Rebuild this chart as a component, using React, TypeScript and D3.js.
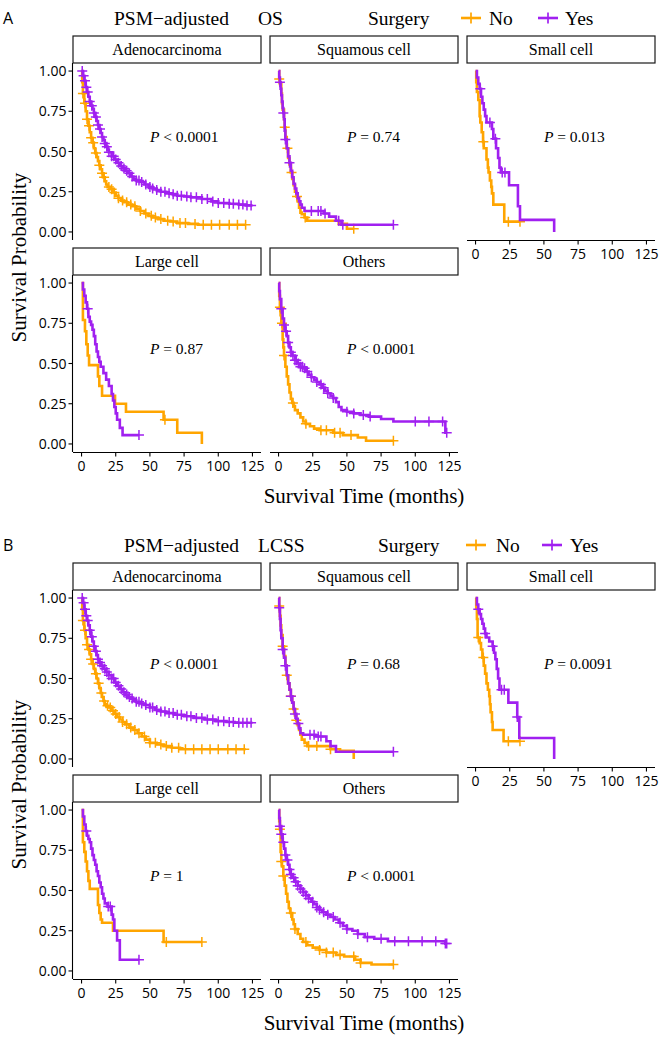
import React from 'react';
import * as d3 from 'd3';

type Pt = [number, number];

const ORANGE = '#FFA500';
const PURPLE = '#A020F0';
const SERIF = '"Liberation Serif", "Times New Roman", Times, serif';
const SANS = '"Open Sans", "Liberation Sans", Arial, sans-serif';

const facetNames = ['Adenocarcinoma', 'Squamous cell', 'Small cell', 'Large cell', 'Others'];
const xTicks = [0, 25, 50, 75, 100, 125];
const yTicks = [0, 0.25, 0.5, 0.75, 1];
const groupLabels = ['No', 'Yes'];
const osPValues = ['< 0.0001', '= 0.74', '= 0.013', '= 0.87', '< 0.0001'];
const lcssPValues = ['< 0.0001', '= 0.68', '= 0.0091', '= 1', '< 0.0001'];

// ---------- A: OS ----------
const osAdenoNo: Pt[] = [[0,1],[0.5,0.93],[1,0.86],[2,0.8],[3,0.75],[4,0.7],[5,0.66],[6,0.62],[7,0.585],[8,0.555],[9,0.52],[10,0.49],[11,0.465],[12,0.44],[13,0.415],[14,0.39],[15,0.365],[16,0.34],[17,0.315],[18,0.295],[19,0.28],[21,0.265],[23,0.245],[25,0.225],[27,0.21],[29,0.195],[31,0.185],[34,0.17],[37,0.16],[40,0.145],[43,0.13],[46,0.115],[49,0.1],[52,0.09],[56,0.08],[60,0.07],[65,0.065],[70,0.055],[78,0.05],[85,0.045],[120,0.045]];
const osAdenoNoCens = [1,2.5,4,5.5,7,8.5,10.5,13,15,16.5,20,22,24,27,30,33,36,39,43,47,51,54,58,63,67,72,76,83,89,95,101,108,114,120];
const osAdenoYes: Pt[] = [[0,1],[1,0.97],[2,0.94],[3,0.9],[4,0.87],[5,0.84],[6,0.81],[7,0.785],[8,0.765],[9,0.74],[10,0.715],[11,0.69],[12,0.665],[13,0.64],[14,0.615],[15,0.59],[16,0.57],[17,0.55],[18,0.53],[19,0.51],[20,0.495],[22,0.47],[24,0.45],[26,0.43],[28,0.41],[30,0.395],[32,0.38],[34,0.365],[36,0.345],[38,0.33],[40,0.32],[43,0.31],[46,0.295],[49,0.28],[52,0.27],[55,0.26],[58,0.25],[62,0.24],[66,0.235],[70,0.225],[75,0.22],[80,0.215],[88,0.205],[95,0.19],[100,0.18],[108,0.175],[115,0.17],[120,0.165],[125,0.165]];
const osAdenoYesCens = [0.5,1.5,2.5,3.5,4.5,6,7.5,9,10.5,12,13.5,15,17,18.5,20,22,23.5,25,27,29,31,33,35,37,40,42,44,47,50,52,55,58,61,64,67,70,73,77,80,84,88,92,96,100,104,108,111,115,118,121,124];

const osSquaNo: Pt[] = [[0,1],[0.5,0.95],[1,0.92],[2,0.86],[2.5,0.8],[3,0.76],[4,0.7],[4.5,0.65],[5,0.59],[6,0.52],[7,0.46],[8,0.42],[9,0.37],[10,0.33],[11,0.29],[12,0.25],[13,0.22],[14,0.19],[15,0.15],[16,0.12],[17,0.11],[19,0.09],[21,0.07],[44,0.05],[50,0.02],[55,0.02]];
const osSquaNoCens = [0.5,4.5,6.5,9.5,13.5,19.5,55];
const osSquaYes: Pt[] = [[0,1],[0.5,0.96],[1,0.93],[1.5,0.89],[2,0.85],[2.5,0.81],[3,0.77],[3.5,0.74],[4,0.7],[4.5,0.63],[5,0.575],[6,0.52],[7,0.47],[8,0.43],[9,0.38],[10,0.34],[11,0.3],[12,0.27],[13,0.24],[14,0.21],[15,0.19],[16,0.17],[17,0.15],[19,0.13],[33,0.115],[37,0.095],[42,0.07],[46,0.045],[84,0.045]];
const osSquaYesCens = [1,3.5,5,8,24,29,31,34,44,47,84];

const osSmallNo: Pt[] = [[0,1],[0.5,0.93],[1,0.87],[2,0.82],[3,0.72],[3.5,0.68],[4.5,0.62],[5.5,0.56],[6,0.52],[8,0.45],[9,0.4],[9.5,0.37],[10.5,0.32],[11.5,0.28],[12,0.24],[13,0.17],[21,0.064],[32.5,0.064]];
const osSmallNoCens = [5.7,24,32.5];
const osSmallYes: Pt[] = [[0,1],[1,0.96],[2,0.92],[3,0.89],[4,0.84],[5,0.8],[6,0.76],[7,0.72],[8,0.68],[12,0.64],[13,0.58],[15,0.52],[16.5,0.46],[17.5,0.4],[18.5,0.37],[24.5,0.29],[31,0.16],[32.5,0.075],[57.5,0]];
const osSmallYesCens = [3.5,10.5,14.5,19.5,21.5];

const osLargeNo: Pt[] = [[0,1],[1,0.77],[2.5,0.7],[3.5,0.62],[4.5,0.55],[5.5,0.49],[12,0.42],[13,0.36],[15,0.3],[24.5,0.25],[32.5,0.2],[60,0.15],[70,0.07],[88,0]];
const osLargeNoCens = [61];
const osLargeYes: Pt[] = [[0,1],[1,0.96],[2,0.92],[3,0.88],[4,0.84],[5,0.79],[6,0.76],[7,0.74],[8,0.71],[9,0.67],[10,0.62],[11,0.575],[12,0.54],[13,0.51],[14,0.48],[16,0.44],[18,0.4],[20,0.36],[22,0.31],[23,0.27],[24,0.23],[25,0.19],[26,0.15],[28,0.1],[30,0.055],[42,0.055]];
const osLargeYesCens = [4.5,42];

const osOthNo: Pt[] = [[0,1],[0.5,0.92],[1,0.85],[1.5,0.8],[2,0.75],[3,0.65],[3.5,0.6],[4,0.55],[5,0.48],[6,0.42],[7,0.37],[8,0.32],[9,0.28],[10,0.255],[11,0.235],[12,0.21],[14,0.19],[16,0.165],[18,0.14],[20,0.125],[23,0.11],[26,0.095],[30,0.085],[40,0.07],[47,0.055],[58,0.04],[64,0.02],[84,0.02]];
const osOthNoCens = [1,2.5,4,10.5,20,31,35,41,45,53,84];
const osOthYes: Pt[] = [[0,1],[0.5,0.95],[1,0.9],[2,0.84],[3,0.78],[4,0.74],[5,0.7],[6,0.67],[7,0.63],[8,0.6],[9,0.57],[10,0.55],[12,0.52],[14,0.5],[16,0.48],[18,0.47],[20,0.45],[22,0.43],[24,0.415],[26,0.4],[28,0.385],[30,0.37],[32,0.35],[34,0.33],[36,0.315],[38,0.3],[40,0.285],[42,0.26],[44,0.23],[46,0.21],[50,0.2],[55,0.19],[60,0.18],[66,0.17],[75,0.155],[84,0.14],[122,0.07],[123,0.07]];
const osOthYesCens = [2,4,5.5,7,9,10.5,12,13,14.5,16,17.5,19,21,24,28,31,33,36,40,50,55,62,67,100,110,120,123];

// ---------- B: LCSS ----------
const lcAdenoNo: Pt[] = [[0,1],[0.5,0.93],[1,0.86],[2,0.8],[3,0.75],[4,0.71],[5,0.68],[6,0.65],[7,0.62],[8,0.59],[9,0.56],[10,0.53],[11,0.5],[12,0.47],[13,0.44],[14,0.41],[15,0.385],[16,0.36],[17,0.34],[18,0.33],[20,0.32],[22,0.3],[24,0.28],[26,0.26],[28,0.245],[30,0.23],[32,0.215],[35,0.195],[38,0.18],[41,0.16],[44,0.14],[47,0.12],[50,0.1],[55,0.09],[60,0.08],[66,0.07],[72,0.06],[120,0.06]];
const lcAdenoNoCens = [1,2.5,4,5.5,7,8.5,10.5,12.5,14.5,16.5,19,21,23,25,27.5,30,33,36,39,42,46,50,54,58,62,66,71,76,82,88,94,100,107,113,119];
const lcAdenoYes: Pt[] = [[0,1],[1,0.97],[2,0.93],[3,0.89],[4,0.86],[5,0.83],[6,0.8],[7,0.76],[8,0.73],[9,0.7],[10,0.67],[11,0.645],[12,0.62],[13,0.6],[14,0.58],[16,0.56],[18,0.54],[20,0.52],[22,0.5],[24,0.475],[26,0.455],[28,0.435],[30,0.415],[32,0.4],[34,0.385],[36,0.375],[38,0.365],[40,0.355],[43,0.345],[46,0.335],[50,0.32],[54,0.305],[58,0.295],[62,0.285],[68,0.275],[75,0.265],[82,0.255],[90,0.245],[98,0.235],[106,0.23],[112,0.225],[125,0.225]];
const lcAdenoYesCens = [0.5,1.5,2.5,3.5,4.5,6,7.5,9,10.5,12,13.5,15,17,18.5,20,22,23.5,25,27,29,31,33,35,37,40,42,44,47,50,52,55,58,61,64,67,70,73,77,80,84,88,92,96,100,104,108,111,115,118,121,124];

const lcSquaNo: Pt[] = [[0,1],[0.5,0.95],[1,0.89],[1.5,0.83],[2,0.77],[3,0.7],[4,0.64],[5,0.58],[6,0.52],[7,0.47],[8,0.43],[9,0.39],[10,0.35],[11,0.31],[12,0.27],[13,0.24],[14,0.21],[15,0.18],[16,0.15],[17,0.12],[19,0.1],[21,0.08],[38,0.06],[45,0.05],[55,0]];
const lcSquaNoCens = [0.5,3,6,9,11,13,22,28,38];
const lcSquaYes: Pt[] = [[0,1],[0.5,0.94],[1,0.87],[1.5,0.8],[2,0.75],[3,0.68],[4,0.63],[5,0.58],[6,0.52],[7,0.47],[8,0.43],[9,0.39],[10,0.35],[11,0.31],[12,0.28],[13,0.25],[14,0.22],[15,0.19],[16,0.16],[18,0.15],[27,0.14],[35,0.11],[38,0.08],[42,0.045],[84,0.045]];
const lcSquaYesCens = [0.5,3,5,9,12,14.5,23,26,29,31,84];

const lcSmallNo: Pt[] = [[0,1],[0.5,0.94],[1,0.87],[1.5,0.755],[3,0.72],[4,0.68],[5,0.63],[6,0.58],[7,0.53],[8,0.47],[9,0.43],[10,0.39],[10.5,0.34],[11,0.29],[12,0.23],[12.5,0.18],[20.5,0.11],[32.5,0.11]];
const lcSmallNoCens = [2,5.7,24,32.5];
const lcSmallYes: Pt[] = [[0,1],[1,0.96],[2,0.93],[3,0.9],[4,0.87],[5,0.84],[6,0.81],[7,0.78],[8,0.755],[10,0.73],[12.5,0.7],[13.5,0.66],[14.5,0.62],[15.5,0.56],[16.5,0.5],[17.5,0.43],[24,0.35],[30.5,0.26],[32,0.13],[57.5,0]];
const lcSmallYesCens = [2,7,12.5,19,21,30.5];

const lcLargeNo: Pt[] = [[0,1],[1,0.8],[2,0.74],[3,0.68],[4,0.62],[5,0.56],[6,0.51],[12,0.41],[13,0.36],[14,0.32],[15,0.3],[23,0.25],[60,0.18],[88,0.18]];
const lcLargeNoCens = [62,88];
const lcLargeYes: Pt[] = [[0,1],[1,0.96],[2,0.91],[3,0.87],[4,0.84],[5,0.82],[6,0.8],[7,0.76],[8,0.72],[9,0.69],[10,0.66],[11,0.62],[12,0.59],[13,0.55],[14,0.52],[15,0.48],[16,0.45],[17,0.42],[19,0.4],[22,0.35],[23,0.32],[24,0.25],[26,0.19],[28,0.07],[42,0.07]];
const lcLargeYesCens = [3.5,19.5,21,42];

const lcOthNo: Pt[] = [[0,1],[0.5,0.93],[1,0.88],[1.5,0.74],[2,0.68],[2.5,0.65],[3.5,0.59],[4.5,0.53],[5.5,0.48],[6.5,0.43],[7.5,0.39],[8.5,0.36],[10,0.32],[11,0.29],[12,0.26],[14,0.23],[16,0.2],[18,0.18],[21,0.16],[25,0.145],[30,0.13],[35,0.115],[42,0.1],[48,0.09],[56,0.07],[60,0.05],[68,0.04],[84,0.04]];
const lcOthNoCens = [1,2,3.5,9,12,20,30,35,40,45,55,60,84];
const lcOthYes: Pt[] = [[0,1],[0.5,0.95],[1,0.9],[2,0.85],[3,0.8],[4,0.76],[5,0.72],[6,0.69],[7,0.66],[8,0.63],[9,0.6],[10,0.58],[12,0.555],[14,0.53],[16,0.51],[18,0.49],[20,0.47],[22,0.45],[24,0.43],[26,0.415],[28,0.395],[30,0.38],[32,0.365],[35,0.35],[38,0.335],[41,0.32],[44,0.3],[47,0.28],[50,0.26],[54,0.25],[58,0.23],[63,0.21],[70,0.2],[80,0.185],[122,0.17],[123,0.17]];
const lcOthYesCens = [1,2,3.5,5,6.5,8,9,11,12.5,14,16,18,20,22,25,28,30,33,36,40,45,50,58,65,75,85,95,105,115,122,123];

type Curve = { steps: Pt[]; cens: number[] };
type FacetData = { no: Curve; yes: Curve };

const osFacets: FacetData[] = [
  { no: { steps: osAdenoNo, cens: osAdenoNoCens }, yes: { steps: osAdenoYes, cens: osAdenoYesCens } },
  { no: { steps: osSquaNo, cens: osSquaNoCens }, yes: { steps: osSquaYes, cens: osSquaYesCens } },
  { no: { steps: osSmallNo, cens: osSmallNoCens }, yes: { steps: osSmallYes, cens: osSmallYesCens } },
  { no: { steps: osLargeNo, cens: osLargeNoCens }, yes: { steps: osLargeYes, cens: osLargeYesCens } },
  { no: { steps: osOthNo, cens: osOthNoCens }, yes: { steps: osOthYes, cens: osOthYesCens } },
];
const lcssFacets: FacetData[] = [
  { no: { steps: lcAdenoNo, cens: lcAdenoNoCens }, yes: { steps: lcAdenoYes, cens: lcAdenoYesCens } },
  { no: { steps: lcSquaNo, cens: lcSquaNoCens }, yes: { steps: lcSquaYes, cens: lcSquaYesCens } },
  { no: { steps: lcSmallNo, cens: lcSmallNoCens }, yes: { steps: lcSmallYes, cens: lcSmallYesCens } },
  { no: { steps: lcLargeNo, cens: lcLargeNoCens }, yes: { steps: lcLargeYes, cens: lcLargeYesCens } },
  { no: { steps: lcOthNo, cens: lcOthNoCens }, yes: { steps: lcOthYes, cens: lcOthYesCens } },
];

// ---------- layout ----------
const W = 662;
const H = 1037;
const PANEL_LEFT = [73, 270, 467];
const PANEL_W = 188;
const STRIP_TOP = [36, 248];
const STRIP_H = 27;
const PANEL_H = 177;
const FACET_POS: [number, number][] = [[0, 0], [1, 0], [2, 0], [0, 1], [1, 1]];

const survAt = (steps: Pt[], t: number) => {
  let s = steps[0][1];
  for (const [tt, ss] of steps) {
    if (tt <= t) s = ss;
    else break;
  }
  return s;
};

type LegendPos = { psm: number; ep: number; surg: number; keyNo: number; no: number; keyYes: number; yes: number };

function Figure({ oy, label, endpoint, facets, pvals, lp }: { oy: number; label: string; endpoint: string; facets: FacetData[]; pvals: string[]; lp: LegendPos }) {
  const ly = oy + 18;
  const line = d3.line<Pt>().curve(d3.curveStepAfter);
  const xAxisFacets = [2, 3, 4];
  return (
    <g>
      <text x={3} y={ly} dy="0.35em" fontFamily={SANS} fontSize={16}>{label}</text>
      <text x={lp.psm} y={ly} dy="0.35em" fontFamily={SERIF} fontSize={19.5}>PSM−adjusted</text>
      <text x={lp.ep} y={ly} dy="0.35em" fontFamily={SERIF} fontSize={19.5}>{endpoint}</text>
      <text x={lp.surg} y={ly} dy="0.35em" fontFamily={SERIF} fontSize={19.5}>Surgery</text>
      {[ORANGE, PURPLE].map((c, i) => {
        const kx = i === 0 ? lp.keyNo : lp.keyYes;
        return (
          <g key={c}>
            <line x1={kx - 10} x2={kx + 10} y1={ly} y2={ly} stroke={c} strokeWidth={2.6} />
            <line x1={kx} x2={kx} y1={ly - 5.5} y2={ly + 5.5} stroke={c} strokeWidth={1.7} />
            <text x={i === 0 ? lp.no : lp.yes} y={ly} dy="0.35em" fontFamily={SERIF} fontSize={19.5}>{groupLabels[i]}</text>
          </g>
        );
      })}
      {facets.map((f, fi) => {
        const [col, row] = FACET_POS[fi];
        const left = PANEL_LEFT[col];
        const stripTop = oy + STRIP_TOP[row];
        const top = stripTop + STRIP_H;
        const bottom = top + PANEL_H;
        const x = d3.scaleLinear().domain([-6.25, 131.25]).range([left, left + PANEL_W]);
        const y = d3.scaleLinear().domain([-0.05, 1.05]).range([bottom, top]);
        line.x((d) => x(d[0])).y((d) => y(d[1]));
        const curves: [Curve, string][] = [[f.no, ORANGE], [f.yes, PURPLE]];
        return (
          <g key={fi}>
            <rect x={left} y={stripTop} width={PANEL_W} height={STRIP_H} fill="#fff" stroke="#1a1a1a" strokeWidth={1.2} />
            <text x={left + PANEL_W / 2} y={stripTop + STRIP_H / 2} dy="0.35em" textAnchor="middle" fontFamily={SERIF} fontSize={16}>{facetNames[fi]}</text>
            {curves.map(([cv, c]) => (
              <g key={c}>
                <path d={line(cv.steps) || ''} fill="none" stroke={c} strokeWidth={2.6} />
                {cv.cens.map((t, k) => {
                  const cx = x(t);
                  const cy = y(survAt(cv.steps, t));
                  return <path key={k} d={`M${cx - 5},${cy}h10M${cx},${cy - 5}v10`} stroke={c} strokeWidth={1.5} />;
                })}
              </g>
            ))}
            <text x={x(50)} y={y(0.595)} dy="0.35em" fontFamily={SERIF} fontSize={15.5}>
              <tspan fontStyle="italic">P</tspan>
              {' ' + pvals[fi]}
            </text>
            {col === 0 && (
              <g>
                <line x1={left - 0.5} x2={left - 0.5} y1={top} y2={bottom} stroke="#000" strokeWidth={1.1} />
                {yTicks.map((v) => (
                  <g key={v}>
                    <line x1={left - 4.5} x2={left - 0.5} y1={y(v)} y2={y(v)} stroke="#000" strokeWidth={1.1} />
                    <text x={left - 6.5} y={y(v)} dy="0.36em" textAnchor="end" fontFamily={SANS} fontSize={14}>{v.toFixed(2)}</text>
                  </g>
                ))}
              </g>
            )}
            {xAxisFacets.includes(fi) && (
              <g>
                <line x1={left} x2={left + PANEL_W} y1={bottom + 0.5} y2={bottom + 0.5} stroke="#000" strokeWidth={1.1} />
                {xTicks.map((v) => (
                  <g key={v}>
                    <line x1={x(v)} x2={x(v)} y1={bottom + 0.5} y2={bottom + 4.5} stroke="#000" strokeWidth={1.1} />
                    <text x={x(v)} y={bottom + 13.5} dy="0.36em" textAnchor="middle" fontFamily={SANS} fontSize={14}>{v}</text>
                  </g>
                ))}
              </g>
            )}
          </g>
        );
      })}
      <text transform={`translate(19,${oy + 257.5}) rotate(-90)`} dy="0.35em" textAnchor="middle" fontFamily={SERIF} fontSize={21}>Survival Probability</text>
      <text x={364} y={oy + 503} textAnchor="middle" fontFamily={SERIF} fontSize={21}>Survival Time (months)</text>
    </g>
  );
}

export default function App() {
  return (
    <svg width={W} height={H} viewBox={`0 0 ${W} ${H}`} style={{ position: 'absolute', left: 0, top: 0, display: 'block', background: '#fff' }}>
      <rect width={W} height={H} fill="#fff" />
      <Figure oy={0} label="A" endpoint="OS" facets={osFacets} pvals={osPValues}
        lp={{ psm: 114, ep: 258, surg: 368, keyNo: 471, no: 489, keyYes: 548, yes: 565 }} />
      <Figure oy={527} label="B" endpoint="LCSS" facets={lcssFacets} pvals={lcssPValues}
        lp={{ psm: 124, ep: 258, surg: 378, keyNo: 476, no: 496, keyYes: 552, yes: 570 }} />
    </svg>
  );
}
